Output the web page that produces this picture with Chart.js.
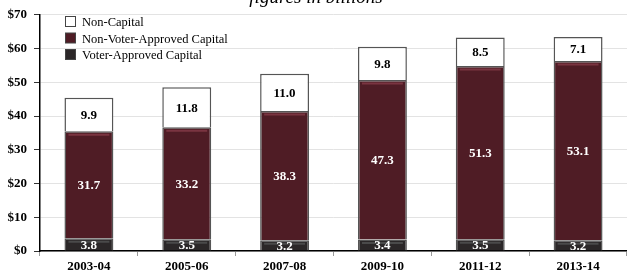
<!DOCTYPE html>
<html>
<head>
<meta charset="utf-8">
<script src="https://cdn.jsdelivr.net/npm/chart.js@4"></script>
<style>
  body { margin: 0; background: #fff; }
  #wrap { width: 627px; height: 271px; }
</style>
</head>
<body>
<div id="wrap"><canvas id="myChart"></canvas></div>
<script>
const years = ["2003-04", "2005-06", "2007-08", "2009-10", "2011-12", "2013-14"];
const voterApproved = [3.8, 3.5, 3.2, 3.4, 3.5, 3.2];
const nonVoterApproved = [31.7, 33.2, 38.3, 47.3, 51.3, 53.1];
const nonCapital = [9.9, 11.8, 11.0, 9.8, 8.5, 7.1];
const yTicks = [0, 10, 20, 30, 40, 50, 60, 70];

const serif = "'Liberation Serif', 'Times New Roman', serif";

// little bevel highlight + value labels in the middle of each segment
const segmentLabels = {
  id: "segmentLabels",
  afterDatasetsDraw(chart) {
    const ctx = chart.ctx;
    ctx.save();
    chart.data.datasets.forEach((ds, i) => {
      if (!ds.shine) return;
      const meta = chart.getDatasetMeta(i);
      meta.data.forEach(bar => {
        const left = bar.x - bar.width / 2 + 4;
        const right = bar.x + bar.width / 2 - 4;
        ctx.strokeStyle = ds.shine;
        ctx.lineWidth = 2;
        ctx.beginPath();
        ctx.moveTo(left, bar.y + 3.5);
        ctx.lineTo(right, bar.y + 3.5);
        ctx.stroke();
      });
    });

    ctx.font = "bold 13px " + serif;
    ctx.textAlign = "center";
    ctx.textBaseline = "middle";
    chart.data.datasets.forEach((ds, i) => {
      const meta = chart.getDatasetMeta(i);
      meta.data.forEach((bar, j) => {
        const mid = (bar.y + bar.base) / 2;
        ctx.fillStyle = ds.labelColor;
        ctx.fillText(ds.data[j].toFixed(1), bar.x, mid + 1);
      });
    });
    ctx.restore();
  }
};

// title (cut off at the top) and the legend inside the plot
const extras = {
  id: "extras",
  afterDraw(chart) {
    const ctx = chart.ctx;
    ctx.save();
    ctx.font = "italic 19px " + serif;
    ctx.fillStyle = "#000";
    ctx.textAlign = "center";
    ctx.textBaseline = "alphabetic";
    ctx.fillText("figures in billions", 316, 3);

    const items = chart.data.datasets.slice().reverse();
    ctx.font = "12.5px " + serif;
    ctx.textAlign = "left";
    ctx.textBaseline = "middle";
    items.forEach((ds, k) => {
      const y = 22 + k * 16.5;
      ctx.fillStyle = ds.backgroundColor;
      ctx.fillRect(65.5, y - 5.5, 10, 10);
      ctx.strokeStyle = "#444";
      ctx.lineWidth = 1;
      ctx.strokeRect(65.5, y - 5.5, 10, 10);
      ctx.fillStyle = "#000";
      ctx.fillText(ds.label, 82, y + 1);
    });
    ctx.restore();
  }
};

new Chart(document.getElementById("myChart"), {
  type: "bar",
  data: {
    labels: years,
    datasets: [
      {
        label: "Voter-Approved Capital",
        data: voterApproved,
        backgroundColor: "#2b2728",
        borderColor: "#555",
        borderWidth: 1.5,
        labelColor: "#fff",
        shine: "#4a4a4a"
      },
      {
        label: "Non-Voter-Approved Capital",
        data: nonVoterApproved,
        backgroundColor: "#4f1c25",
        borderColor: "#555",
        borderWidth: 1.5,
        labelColor: "#fff",
        shine: "#7a3441"
      },
      {
        label: "Non-Capital",
        data: nonCapital,
        backgroundColor: "#ffffff",
        borderColor: "#555",
        borderWidth: 1.5,
        labelColor: "#000"
      }
    ]
  },
  options: {
    responsive: true,
    maintainAspectRatio: false,
    animation: false,
    layout: { padding: { top: 13, right: 0, left: 0, bottom: 0 } },
    datasets: { bar: { categoryPercentage: 0.5, barPercentage: 1 } },
    plugins: {
      legend: { display: false },
      tooltip: { enabled: false }
    },
    scales: {
      x: {
        stacked: true,
        grid: { offset: true, drawOnChartArea: false, color: "#999", tickLength: 5 },
        border: { color: "#000", width: 1.5 },
        ticks: { color: "#000", font: { family: serif, size: 13, weight: "bold" }, padding: 3 },
        afterFit(scale) { scale.height = 20; }
      },
      y: {
        stacked: true,
        min: 0,
        max: 70,
        afterBuildTicks(scale) { scale.ticks = yTicks.map(v => ({ value: v })); },
        grid: { color: "#e3e3e3", tickColor: "#333", tickLength: 6 },
        border: { color: "#000", width: 1.5 },
        ticks: {
          color: "#000",
          padding: 7,
          font: { family: serif, size: 13, weight: "bold" },
          callback: v => "$" + v
        },
        afterFit(scale) { scale.width = 40; }
      }
    }
  },
  plugins: [segmentLabels, extras]
});
</script>
</body>
</html>
